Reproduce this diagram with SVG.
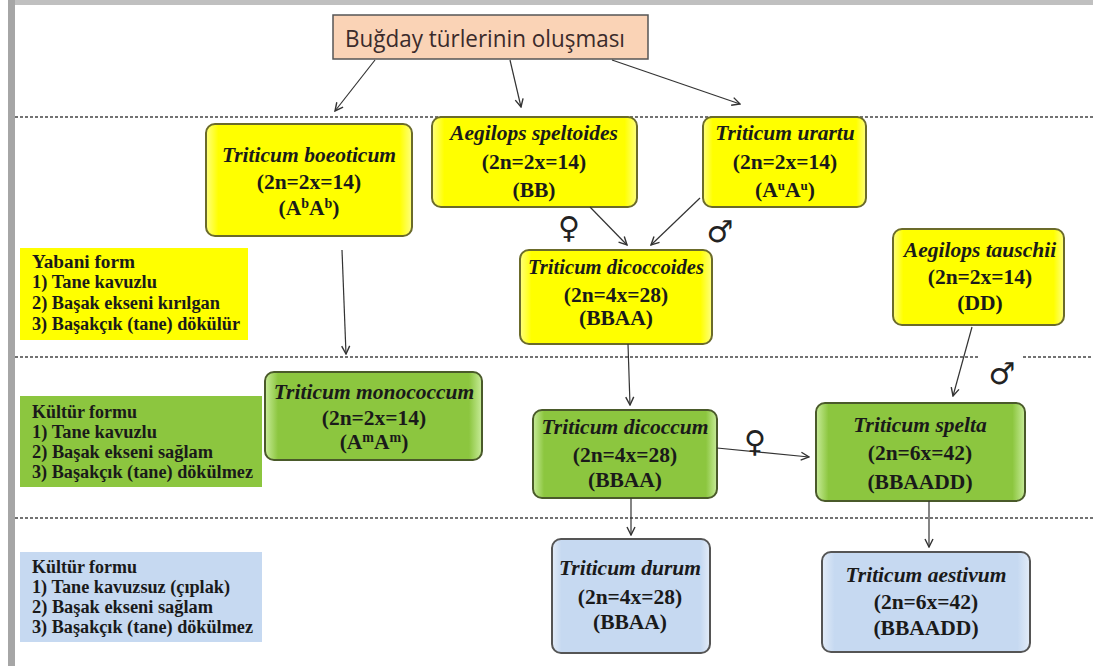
<svg xmlns="http://www.w3.org/2000/svg" width="1093" height="666" viewBox="0 0 1093 666">
<style>
.nt{font-family:"Liberation Serif","Times New Roman",serif;font-weight:bold;font-size:21.5px;fill:#1a1a1a;text-anchor:middle}
.it{font-style:italic}
.lt{font-family:"Liberation Serif","Times New Roman",serif;font-weight:bold;font-size:18px;fill:#1a1a1a}
.conn{stroke:#333;stroke-width:1.2;fill:none;marker-end:url(#ah)}
.dash{stroke:#444;stroke-width:1.3;stroke-dasharray:3,2;fill:none}
.ynode{fill:url(#gy);stroke:#6b6b2a;stroke-width:2}
.gnode{fill:url(#gg);stroke:#4a5a2a;stroke-width:2}
.bnode{fill:url(#gb);stroke:#555;stroke-width:2}
.sym{font-family:"DejaVu Sans",sans-serif;font-size:30px;fill:#222;text-anchor:middle}
</style>
<defs>
<marker id="ah" viewBox="0 0 10 10" refX="9" refY="5" markerWidth="10" markerHeight="10" markerUnits="userSpaceOnUse" orient="auto">
<polyline points="1,1 9,5 1,9" fill="none" stroke="#333" stroke-width="1.4"/>
</marker>
<linearGradient id="gy" x1="0" y1="0" x2="1" y2="0">
<stop offset="0" stop-color="#ffff80"/><stop offset="0.06" stop-color="#ffff00"/><stop offset="0.94" stop-color="#ffff00"/><stop offset="1" stop-color="#ffff80"/>
</linearGradient>
<linearGradient id="gg" x1="0" y1="0" x2="1" y2="0">
<stop offset="0" stop-color="#c8ec9a"/><stop offset="0.06" stop-color="#8cc63f"/><stop offset="0.94" stop-color="#8cc63f"/><stop offset="1" stop-color="#c8ec9a"/>
</linearGradient>
<linearGradient id="gb" x1="0" y1="0" x2="1" y2="0">
<stop offset="0" stop-color="#e3ecf8"/><stop offset="0.06" stop-color="#c6d9f1"/><stop offset="0.94" stop-color="#c6d9f1"/><stop offset="1" stop-color="#e3ecf8"/>
</linearGradient>
</defs>
<rect x="0" y="0" width="1093" height="666" fill="#ffffff"/>
<rect x="8" y="0" width="7" height="666" fill="#a6a6a6"/>
<rect x="15" y="0" width="1078" height="5" fill="#c0c0c0"/>

<g id="dividers">
<line class="dash" x1="15" y1="117" x2="1093" y2="117"/>
<line class="dash" x1="15" y1="357" x2="980" y2="357"/>
<line class="dash" x1="1023" y1="357" x2="1093" y2="357"/>
<line class="dash" x1="15" y1="518" x2="1093" y2="518"/>
</g>

<g id="title">
<rect x="333" y="15" width="315" height="44" fill="#fad3b6" stroke="#555" stroke-width="1.5"/>
<text x="485" y="47" font-family="Open Sans, Liberation Sans, sans-serif" font-size="23" fill="#3b2b2b" text-anchor="middle" textLength="280" lengthAdjust="spacingAndGlyphs">Buğday türlerinin oluşması</text>
</g>

<g id="label-yabani">
<rect x="20" y="248" width="228" height="92" fill="#ffff00"/>
<text class="lt" x="32" y="268" textLength="103" lengthAdjust="spacingAndGlyphs">Yabani form</text>
<text class="lt" x="32" y="288" textLength="125" lengthAdjust="spacingAndGlyphs">1) Tane kavuzlu</text>
<text class="lt" x="32" y="309" textLength="188" lengthAdjust="spacingAndGlyphs">2) Başak ekseni kırılgan</text>
<text class="lt" x="32" y="330" textLength="208" lengthAdjust="spacingAndGlyphs">3) Başakçık (tane) dökülür</text>
</g>

<g id="label-kultur1">
<rect x="20" y="396" width="242" height="91" fill="#8cc63f"/>
<text class="lt" x="32" y="418" textLength="105" lengthAdjust="spacingAndGlyphs">Kültür formu</text>
<text class="lt" x="32" y="438" textLength="125" lengthAdjust="spacingAndGlyphs">1) Tane kavuzlu</text>
<text class="lt" x="32" y="458" textLength="181" lengthAdjust="spacingAndGlyphs">2) Başak ekseni sağlam</text>
<text class="lt" x="32" y="478" textLength="221" lengthAdjust="spacingAndGlyphs">3) Başakçık (tane) dökülmez</text>
</g>

<g id="label-kultur2">
<rect x="20" y="552" width="242" height="90" fill="#c6d9f1"/>
<text class="lt" x="32" y="573" textLength="105" lengthAdjust="spacingAndGlyphs">Kültür formu</text>
<text class="lt" x="32" y="593" textLength="198" lengthAdjust="spacingAndGlyphs">1) Tane kavuzsuz (çıplak)</text>
<text class="lt" x="32" y="613" textLength="181" lengthAdjust="spacingAndGlyphs">2) Başak ekseni sağlam</text>
<text class="lt" x="32" y="633" textLength="221" lengthAdjust="spacingAndGlyphs">3) Başakçık (tane) dökülmez</text>
</g>

<g id="boeoticum">
<rect class="ynode" x="206" y="124" width="206" height="112" rx="9"/>
<text class="nt it" x="309" y="162">Triticum boeoticum</text>
<text class="nt" x="309" y="189">(2n=2x=14)</text>
<text class="nt" x="309" y="215">(A<tspan font-size="14" dy="-7">b</tspan><tspan dy="7">A</tspan><tspan font-size="14" dy="-7">b</tspan><tspan dy="7">)</tspan></text>
</g>

<g id="speltoides">
<rect class="ynode" x="432" y="117" width="205" height="90" rx="9"/>
<text class="nt it" x="534" y="140">Aegilops speltoides</text>
<text class="nt" x="534" y="169">(2n=2x=14)</text>
<text class="nt" x="534" y="197">(BB)</text>
</g>

<g id="urartu">
<rect class="ynode" x="703" y="117" width="163" height="90" rx="9"/>
<text class="nt it" x="785" y="140">Triticum urartu</text>
<text class="nt" x="785" y="169">(2n=2x=14)</text>
<text class="nt" x="785" y="197">(A<tspan font-size="13" dy="-7">u</tspan><tspan dy="7">A</tspan><tspan font-size="13" dy="-7">u</tspan><tspan dy="7">)</tspan></text>
</g>

<g id="dicoccoides">
<rect class="ynode" x="520" y="250" width="192" height="94" rx="9"/>
<text class="nt it" x="616" y="274" textLength="176" lengthAdjust="spacingAndGlyphs">Triticum dicoccoides</text>
<text class="nt" x="616" y="302">(2n=4x=28)</text>
<text class="nt" x="616" y="325">(BBAA)</text>
</g>

<g id="tauschii">
<rect class="ynode" x="893" y="229" width="171" height="96" rx="9"/>
<text class="nt it" x="980" y="257">Aegilops tauschii</text>
<text class="nt" x="980" y="284">(2n=2x=14)</text>
<text class="nt" x="980" y="310">(DD)</text>
</g>

<g id="monococcum">
<rect class="gnode" x="265" y="372" width="217" height="88" rx="9"/>
<text class="nt it" x="374" y="399">Triticum monococcum</text>
<text class="nt" x="374" y="425">(2n=2x=14)</text>
<text class="nt" x="374" y="449">(A<tspan font-size="14" dy="-7">m</tspan><tspan dy="7">A</tspan><tspan font-size="14" dy="-7">m</tspan><tspan dy="7">)</tspan></text>
</g>

<g id="dicoccum">
<rect class="gnode" x="533" y="410" width="184" height="88" rx="9"/>
<text class="nt it" x="625" y="434">Triticum dicoccum</text>
<text class="nt" x="625" y="462">(2n=4x=28)</text>
<text class="nt" x="625" y="487">(BBAA)</text>
</g>

<g id="spelta">
<rect class="gnode" x="816" y="403" width="209" height="98" rx="9"/>
<text class="nt it" x="920" y="432">Triticum spelta</text>
<text class="nt" x="920" y="460">(2n=6x=42)</text>
<text class="nt" x="920" y="489">(BBAADD)</text>
</g>

<g id="durum">
<rect class="bnode" x="552" y="539" width="158" height="114" rx="9"/>
<text class="nt it" x="630" y="575">Triticum durum</text>
<text class="nt" x="630" y="604">(2n=4x=28)</text>
<text class="nt" x="630" y="629">(BBAA)</text>
</g>

<g id="aestivum">
<rect class="bnode" x="822" y="552" width="208" height="100" rx="9"/>
<text class="nt it" x="926" y="582">Triticum aestivum</text>
<text class="nt" x="926" y="609">(2n=6x=42)</text>
<text class="nt" x="926" y="635">(BBAADD)</text>
</g>

<g id="connectors">
<line class="conn" x1="375" y1="60" x2="335" y2="111"/>
<line class="conn" x1="510" y1="60" x2="521" y2="107"/>
<line class="conn" x1="612" y1="60" x2="740" y2="104"/>
<line class="conn" x1="342" y1="250" x2="346" y2="354"/>
<line class="conn" x1="590" y1="207" x2="627" y2="245"/>
<line class="conn" x1="700" y1="198" x2="651" y2="245"/>
<line class="conn" x1="628" y1="344" x2="630" y2="405"/>
<line class="conn" x1="717" y1="448" x2="809" y2="457"/>
<line class="conn" x1="972" y1="327" x2="953" y2="396"/>
<line class="conn" x1="631" y1="498" x2="631" y2="535"/>
<line class="conn" x1="929" y1="501" x2="929" y2="547"/>
</g>

<g id="symbols">
<text class="sym" x="569" y="238">♀</text>
<text class="sym" x="720" y="242">♂</text>
<text class="sym" x="1002" y="384" font-size="35">♂</text>
<text class="sym" x="755" y="452">♀</text>
</g>
</svg>
